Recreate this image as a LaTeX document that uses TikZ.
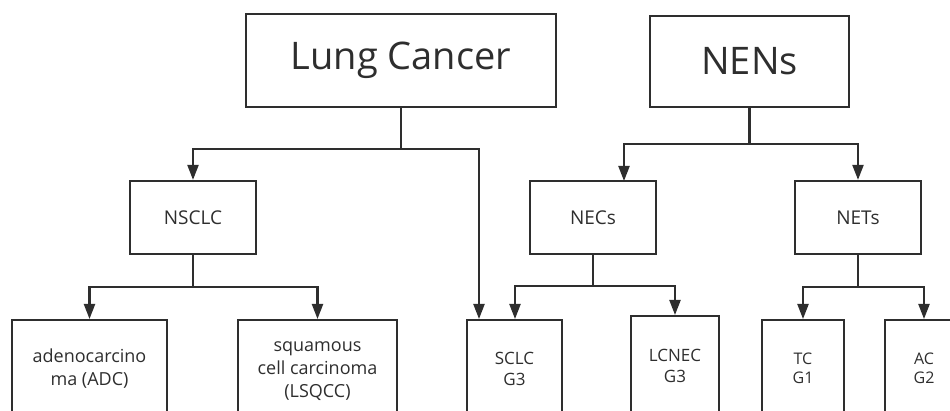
\documentclass[tikz,border=0pt]{standalone}
\usepackage{fontspec}
\setmainfont{Open Sans}
\usetikzlibrary{arrows.meta}
\definecolor{ink}{HTML}{2E2E2E}
\tikzset{
  box/.style={draw=ink, line width=2.2pt, rectangle, inner sep=0pt},
  lbl/.style={text=ink, align=center, inner sep=0pt},
  conn/.style={draw=ink, line width=2.2pt},
  arr/.style={conn, -{Triangle[length=15pt,width=11pt]}},
}
\begin{document}
\begin{tikzpicture}[x=1pt,y=-1pt]
\useasboundingbox (0,0) rectangle (950,411);
\clip (0,0) rectangle (950,411);
% top level
\node[box, minimum width=310pt, minimum height=93pt, font=\fontsize{38}{44}\selectfont, text=ink] (lung) at (401,60.5) {Lung Cancer};
\node[box, minimum width=199pt, minimum height=91pt, font=\fontsize{38}{44}\selectfont, text=ink] (nens) at (749.5,61.5) {NENs};
% second level
\node[box, minimum width=126pt, minimum height=73pt, font=\fontsize{19}{22}\selectfont, text=ink] (nsclc) at (193,217.5) {NSCLC};
\node[box, minimum width=126pt, minimum height=73pt, font=\fontsize{19}{22}\selectfont, text=ink] (necs) at (593,217.5) {NECs};
\node[box, minimum width=126pt, minimum height=73pt, font=\fontsize{19}{22}\selectfont, text=ink] (nets) at (858,217.5) {NETs};
% bottom boxes (extend beyond the lower edge)
\node[box, anchor=north, minimum width=155pt, minimum height=150pt] (adc) at (89.5,319) {};
\node[box, anchor=north, minimum width=159pt, minimum height=150pt] (lsqcc) at (317.5,319) {};
\node[box, anchor=north, minimum width=95pt, minimum height=150pt] (sclc) at (514.5,319) {};
\node[box, anchor=north, minimum width=88pt, minimum height=150pt] (lcnec) at (675,315) {};
\node[box, anchor=north, minimum width=82pt, minimum height=150pt] (tc) at (803,319) {};
\node[box, anchor=north, minimum width=78pt, minimum height=150pt] (ac) at (924,319) {};
% bottom texts
\node[lbl, font=\fontsize{18}{23}\selectfont] (adct) at (89.5,369) {adenocarcino\\ma (ADC)};
\node[lbl, font=\fontsize{18}{23}\selectfont] (lsqcct) at (317.5,371) {squamous\\cell carcinoma\\(LSQCC)};
\node[lbl, font=\fontsize{17}{20.5}\selectfont] (sclct) at (514.5,369) {SCLC\\G3};
\node[lbl, font=\fontsize{17}{20.5}\selectfont] (lcnect) at (675,366) {LCNEC\\G3};
\node[lbl, font=\fontsize{16}{19}\selectfont] (tct) at (803,368) {TC\\G1};
\node[lbl, font=\fontsize{16}{19}\selectfont] (act) at (924,368) {AC\\G2};
% junction coordinates
\coordinate (lj) at (401,149);
\coordinate (nj) at (749.5,144);
\coordinate (sj) at (193,287);
\coordinate (cj) at (593,286);
\coordinate (tj) at (858,287);
\coordinate (necsin) at (624,181);
\coordinate (sclcA) at (479,319);
\coordinate (sclcB) at (515,319);
% connectors
\draw[conn] (lung.south) -- (lj);
\draw[arr] (lj) -| (nsclc.north);
\draw[arr] (lj) -| (sclcA);
\draw[conn] (nens.south) -- (nj);
\draw[arr] (nj) -| (necsin);
\draw[arr] (nj) -| (nets.north);
\draw[conn] (nsclc.south) -- (sj);
\draw[arr] (sj) -| (adc.north);
\draw[arr] (sj) -| (lsqcc.north);
\draw[conn] (necs.south) -- (cj);
\draw[arr] (cj) -| (sclcB);
\draw[arr] (cj) -| (lcnec.north);
\draw[conn] (nets.south) -- (tj);
\draw[arr] (tj) -| (tc.north);
\draw[arr] (tj) -| (ac.north);
\end{tikzpicture}
\end{document}
